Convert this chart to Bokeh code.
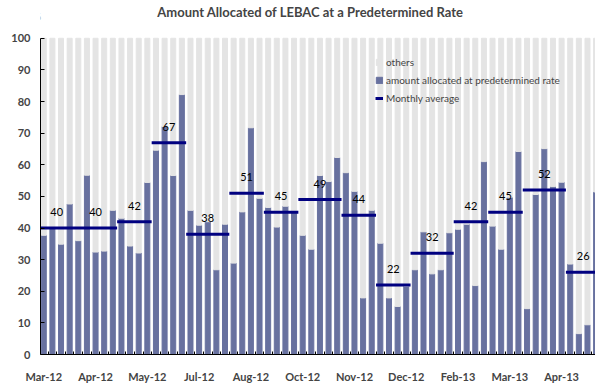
from bokeh.plotting import figure
from bokeh.models import (Range1d, FixedTicker, Legend, LegendItem, Label,
                          ColumnDataSource)
from bokeh.core.properties import value
from bokeh.embed import file_html
from bokeh.resources import INLINE

# Share of each LEBAC auction allocated at a predetermined rate (%)
allocated = [
    37.7, 40.1, 34.9, 47.6,                 # Mar-12
    36.0, 56.7, 32.4, 32.7, 45.6,           # Apr-12
    43.1, 34.3, 32.1, 54.4,                 # May-12
    64.6, 72.1, 56.6, 82.2,                 # Jun-12
    45.6, 40.9, 42.0, 26.8, 41.2,           # Jul-12
    28.9, 45.1, 71.7, 49.4,                 # Aug-12
    46.5, 40.3, 46.9, 45.1,                 # Sep-12
    37.7, 33.3, 56.6, 54.7, 62.3,           # Oct-12
    57.5, 51.6, 17.9, 45.6,                 # Nov-12
    35.2, 17.9, 15.2, 21.6,                 # Dec-12
    26.8, 38.8, 25.5, 26.8, 38.5,           # Jan-13
    39.6, 41.2, 21.8, 61.0,                 # Feb-13
    40.6, 33.3, 49.7, 64.2,                 # Mar-13
    14.5, 50.6, 65.1, 53.1, 54.5,           # Apr-13
    28.6, 6.6, 9.4, 51.4,                   # May-13
]

# Auctions per month and the monthly average of the allocated share
month_sizes = [4, 5, 4, 4, 5, 4, 4, 5, 4, 4, 5, 4, 4, 5, 4]
monthly_avg = [40, 40, 42, 67, 38, 51, 45, 49, 44, 22, 32, 42, 45, 52, 26]

tick_labels = ["Mar-12", "Apr-12", "May-12", "Jul-12", "Aug-12", "Oct-12",
               "Nov-12", "Dec-12", "Feb-13", "Mar-13", "Apr-13"]
tick_every = 6

n = len(allocated)
idx = list(range(n))
others = [100 - v for v in allocated]

bar_src = ColumnDataSource(dict(x=idx, alloc=allocated, others=others))

# segments for the monthly averages
x0, x1, lx = [], [], []
start = 0
for size in month_sizes:
    x0.append(start - 0.5)
    x1.append(start + size - 0.5)
    lx.append(start + (size - 1) / 2)
    start += size
avg_src = ColumnDataSource(dict(x0=x0, x1=x1, y=monthly_avg, lx=lx,
                                txt=[str(v) for v in monthly_avg]))

FONT = "Lato"
BLUE = "#68719f"
GREY = "#e4e4e4"
NAVY = "#000080"

# the frame reaches the top of the canvas so that the title and the unit
# label can sit above the 100 line; the y axis itself stops at 100
p = figure(width=595, height=385, output_backend="svg", toolbar_location=None,
           x_range=Range1d(-0.38, 63.93), y_range=Range1d(0, 111.95),
           min_border_left=40, min_border_right=0, min_border_top=0,
           min_border_bottom=29, title=None)
p.outline_line_color = None
p.xgrid.visible = False
p.ygrid.visible = False
p.background_fill_color = "white"
p.border_fill_color = "white"

r_blue = p.vbar(x="x", bottom=0, top="alloc", width=0.58, color=BLUE,
                source=bar_src)
r_grey = p.vbar(x="x", bottom="alloc", top=100, width=0.58, color=GREY,
                source=bar_src)
r_avg = p.segment(x0="x0", y0="y", x1="x1", y1="y", line_color=NAVY,
                  line_width=3, source=avg_src)
p.text(x="lx", y="y", text="txt", source=avg_src, text_align="center",
       text_baseline="middle", y_offset=-16, text_font=value(FONT),
       text_font_size="11px", text_color="black")

# axes
yax = p.yaxis[0]
yax.bounds = (0, 100)
yax.ticker = FixedTicker(ticks=list(range(0, 101, 10)))
yax.major_tick_in = 4
yax.major_tick_out = 0
yax.minor_tick_line_color = None
yax.axis_line_color = "black"
yax.major_label_text_font = FONT
yax.major_label_text_font_style = "bold"
yax.major_label_text_font_size = "11px"
yax.major_label_standoff = 10

xax = p.xaxis[0]
ticks = list(range(0, n, tick_every))[:len(tick_labels)]
xax.ticker = FixedTicker(ticks=ticks, minor_ticks=[i + 0.5 for i in range(-1, n)])
xax.major_label_overrides = {t: lab for t, lab in zip(ticks, tick_labels)}
xax.major_tick_in = 0
xax.major_tick_out = 0
xax.minor_tick_in = 3
xax.minor_tick_out = 0
xax.axis_line_color = "black"
xax.major_label_text_font = FONT
xax.major_label_text_font_style = "bold"
xax.major_label_text_font_size = "11px"
xax.major_label_standoff = 15

legend = Legend(items=[
    LegendItem(label="others", renderers=[r_grey]),
    LegendItem(label="amount allocated at predetermined rate", renderers=[r_blue]),
    LegendItem(label="Monthly average", renderers=[r_avg]),
], location=(335, 250), background_fill_alpha=0, border_line_alpha=0,
    glyph_width=8, glyph_height=8, label_height=8, spacing=6, padding=0,
    margin=0, label_standoff=3, label_text_font=FONT,
    label_text_font_size="10px")
p.add_layout(legend, "center")

p.add_layout(Label(x=30.9, y=108.3,
                   text="Amount Allocated of LEBAC at a Predetermined Rate",
                   text_align="center", text_baseline="alphabetic",
                   text_font=FONT, text_font_style="bold",
                   text_font_size="13px"))
p.add_layout(Label(x=-0.73, y=107.0, text="%", text_align="center",
                   text_baseline="middle", text_font=FONT,
                   text_font_size="9px"))

open("out.html", "w").write(file_html(p, INLINE))
